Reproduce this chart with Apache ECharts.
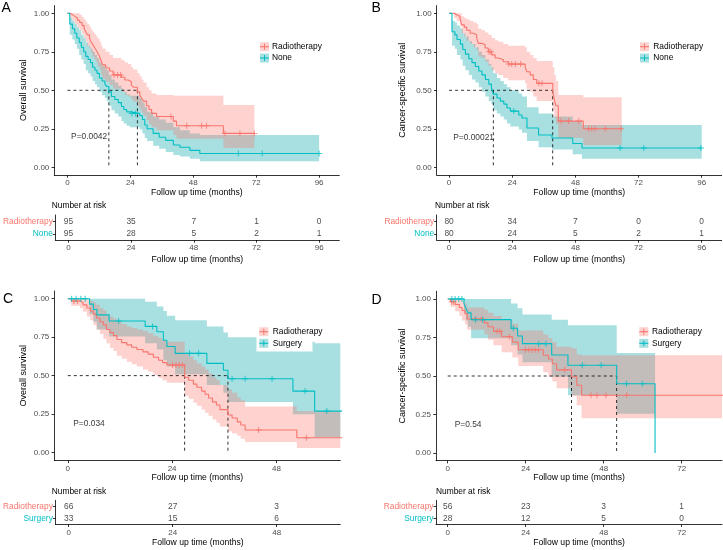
<!DOCTYPE html>
<html><head><meta charset="utf-8">
<script src="https://cdn.jsdelivr.net/npm/echarts@6/dist/echarts.min.js"></script>
<style>html,body{margin:0;padding:0;background:#fff}#c{width:723px;height:550px}</style>
</head><body><div id="c"></div>
<script>
const FONT = "'Liberation Sans', Arial, Helvetica, sans-serif";
const RED = '#F8766D', TEAL = '#00BFC4';
const RED_BAND = 'rgba(248,118,109,0.33)', TEAL_BAND = 'rgba(0,160,168,0.34)';

// ---- data: rows are [time, survival, lower CI, upper CI] ----
const kmA_radio = [[0,1,1,1],[1.0,0.99,0.97,1],[2.0,0.98,0.95,1],[2.9,0.97,0.93,1],[3.8,0.955,0.91,1],[4.7,0.94,0.89,0.99],[5.6,0.92,0.865,0.975],[6.4,0.90,0.84,0.96],[7.0,0.88,0.815,0.945],[7.6,0.86,0.79,0.93],[8.4,0.84,0.77,0.915],[9.0,0.815,0.74,0.895],[9.6,0.80,0.72,0.88],[10.3,0.78,0.70,0.865],[11.0,0.76,0.68,0.85],[11.6,0.74,0.655,0.835],[12.3,0.72,0.635,0.815],[12.9,0.69,0.60,0.79],[13.4,0.665,0.575,0.77],[14.6,0.645,0.555,0.75],[16.1,0.625,0.535,0.73],[17.4,0.60,0.51,0.71],[20.6,0.585,0.49,0.695],[21.9,0.567,0.47,0.68],[23.2,0.556,0.46,0.67],[24.4,0.535,0.44,0.65],[25.1,0.52,0.425,0.635],[26.7,0.49,0.395,0.61],[27.6,0.47,0.375,0.59],[28.3,0.45,0.355,0.57],[29.0,0.43,0.335,0.55],[30.2,0.40,0.305,0.52],[31.1,0.375,0.28,0.50],[32.1,0.35,0.26,0.48],[34.0,0.33,0.24,0.47],[40.4,0.30,0.21,0.465],[41.6,0.27,0.185,0.465],[59.5,0.22,0.125,0.405],[71.3,0.22,0.125,0.405]];
const kmA_none = [[0,1,1,1],[0.9,0.93,0.86,0.97],[1.9,0.90,0.83,0.95],[2.8,0.87,0.80,0.93],[3.6,0.84,0.77,0.91],[4.5,0.81,0.73,0.89],[5.3,0.78,0.70,0.86],[6.2,0.75,0.67,0.84],[7.0,0.72,0.63,0.81],[7.9,0.70,0.61,0.79],[8.8,0.68,0.59,0.77],[9.6,0.65,0.56,0.75],[10.5,0.63,0.54,0.73],[11.3,0.61,0.52,0.71],[12.2,0.58,0.49,0.68],[13.2,0.56,0.47,0.66],[14.3,0.54,0.45,0.64],[15.0,0.525,0.43,0.63],[15.8,0.49,0.40,0.60],[16.8,0.46,0.37,0.57],[18.1,0.44,0.35,0.55],[19.4,0.42,0.33,0.53],[20.6,0.395,0.30,0.51],[21.5,0.375,0.285,0.49],[22.6,0.36,0.27,0.475],[23.8,0.35,0.26,0.465],[27.6,0.335,0.245,0.45],[28.6,0.31,0.22,0.42],[29.5,0.275,0.19,0.39],[30.4,0.25,0.17,0.36],[32.7,0.22,0.14,0.33],[35.0,0.195,0.12,0.31],[37.5,0.175,0.10,0.29],[40.4,0.145,0.08,0.26],[42.9,0.13,0.07,0.24],[46.7,0.11,0.055,0.22],[50.5,0.09,0.04,0.21],[96,0.09,0.04,0.21]];
const censA_radio = [17.8,19.1,20.3,39.5,45.5,51.2,53.1,60.1,65.8,71.3];
const censA_none = [24.6,26.0,65.2,74.3,96];

const kmB_radio = [[0,1,1,1],[1.9,0.99,0.97,1],[2.9,0.98,0.95,1],[4.2,0.96,0.92,1],[4.8,0.925,0.87,0.98],[5.8,0.91,0.85,0.97],[6.7,0.89,0.82,0.96],[8.0,0.87,0.80,0.95],[9.3,0.86,0.78,0.94],[10.5,0.84,0.76,0.93],[11.1,0.805,0.72,0.90],[12.4,0.795,0.71,0.89],[13.7,0.775,0.685,0.875],[14.9,0.75,0.66,0.86],[16.2,0.73,0.63,0.84],[17.5,0.71,0.61,0.825],[18.7,0.70,0.60,0.815],[20.6,0.685,0.58,0.80],[22.5,0.67,0.565,0.79],[28.9,0.655,0.545,0.78],[29.5,0.62,0.51,0.75],[30.8,0.60,0.49,0.73],[32.0,0.57,0.46,0.71],[33.3,0.545,0.43,0.69],[39.4,0.49,0.37,0.65],[40.0,0.44,0.32,0.60],[40.6,0.40,0.28,0.56],[41.5,0.30,0.19,0.47],[51.0,0.25,0.145,0.455],[65.6,0.25,0.145,0.455]];
const kmB_none = [[0,1,1,1],[1.1,0.88,0.79,0.95],[2.2,0.86,0.77,0.94],[3.0,0.83,0.73,0.92],[4.3,0.80,0.70,0.90],[5.2,0.765,0.66,0.87],[6.2,0.735,0.63,0.85],[7.5,0.705,0.60,0.82],[8.7,0.68,0.57,0.80],[10.0,0.655,0.55,0.78],[11.3,0.625,0.52,0.75],[12.5,0.60,0.49,0.73],[13.8,0.57,0.46,0.70],[15.1,0.54,0.43,0.67],[16.1,0.515,0.41,0.65],[16.8,0.475,0.37,0.61],[18.2,0.45,0.35,0.58],[19.5,0.43,0.33,0.56],[20.8,0.41,0.31,0.54],[22.0,0.385,0.285,0.52],[23.3,0.365,0.265,0.50],[26.5,0.34,0.245,0.48],[27.7,0.32,0.225,0.46],[29.6,0.255,0.17,0.39],[34.0,0.21,0.13,0.35],[39.1,0.19,0.115,0.33],[47.0,0.155,0.085,0.30],[50.5,0.125,0.055,0.275],[96,0.125,0.055,0.275]];
const censB_radio = [15.2,15.9,22.7,23.8,25.2,27.2,34.1,35.3,42.5,45.4,49.3,53.0,54.2,55.5,59.4,65.4];
const censB_none = [24.6,65.0,74.0,95.7];

const kmC_radio = [[0,1,1,1],[0.8,0.985,0.955,1],[2.8,0.975,0.94,1],[3.5,0.96,0.915,1],[4.4,0.94,0.885,0.995],[5.2,0.92,0.86,0.985],[5.9,0.90,0.83,0.975],[6.6,0.875,0.80,0.96],[7.4,0.85,0.77,0.94],[8.2,0.83,0.74,0.925],[8.9,0.80,0.71,0.90],[9.7,0.78,0.68,0.885],[10.5,0.76,0.66,0.87],[11.3,0.735,0.63,0.85],[12.4,0.715,0.61,0.835],[13.6,0.70,0.59,0.82],[14.7,0.685,0.575,0.81],[15.9,0.67,0.56,0.80],[17.3,0.655,0.54,0.79],[18.5,0.64,0.525,0.775],[19.7,0.62,0.505,0.76],[20.9,0.60,0.485,0.745],[21.8,0.585,0.47,0.73],[22.8,0.57,0.455,0.72],[26.9,0.49,0.37,0.645],[27.8,0.47,0.35,0.625],[28.9,0.445,0.325,0.60],[29.7,0.425,0.305,0.58],[30.8,0.40,0.28,0.56],[31.6,0.38,0.26,0.54],[32.4,0.355,0.24,0.515],[33.3,0.33,0.215,0.49],[34.2,0.31,0.195,0.47],[35.0,0.28,0.17,0.44],[36.85,0.245,0.14,0.41],[37.8,0.225,0.125,0.39],[39.0,0.20,0.11,0.36],[39.8,0.18,0.09,0.34],[40.8,0.147,0.07,0.30],[52.7,0.097,0.03,0.27],[65,0.097,0.03,0.27]];
const kmC_surg = [[0,1,1,1],[5.0,0.965,0.90,1],[5.9,0.93,0.85,1],[6.7,0.895,0.80,1],[9.5,0.855,0.755,1],[17.8,0.82,0.71,0.98],[20.5,0.785,0.67,0.95],[22.0,0.73,0.60,0.92],[22.8,0.69,0.56,0.89],[24.7,0.645,0.51,0.86],[32.0,0.58,0.44,0.82],[35.8,0.535,0.39,0.78],[36.85,0.48,0.33,0.75],[51.8,0.40,0.25,0.72],[56.8,0.27,0.10,0.71],[65,0.27,0.10,0.71]];
const censC_radio = [1.4,2.2,24.1,24.9,25.6,26.4,43.9,54.9];
const censC_surg = [0.9,1.9,3.0,4.0,11.7,19.5,28.0,30.1,37.8,40.8,47.0,54.6,59.6];

const kmD_radio = [[0,1,1,1],[0.9,0.982,0.95,1],[2.3,0.964,0.92,1],[3.6,0.945,0.89,1],[4.4,0.925,0.86,0.985],[5.3,0.905,0.835,0.97],[6.0,0.87,0.80,0.945],[11.3,0.845,0.77,0.93],[12.4,0.82,0.735,0.91],[14.1,0.79,0.70,0.89],[16.6,0.755,0.655,0.865],[19.9,0.72,0.62,0.84],[21.7,0.67,0.565,0.795],[29.4,0.635,0.525,0.77],[31.0,0.61,0.495,0.745],[32.2,0.58,0.465,0.72],[33.5,0.54,0.42,0.69],[38.1,0.495,0.37,0.68],[39.7,0.44,0.31,0.64],[41.2,0.375,0.225,0.635],[86,0.375,0.225,0.635]];
const kmD_surg = [[0,1,1,1],[5.0,0.97,0.91,1],[5.6,0.94,0.86,1],[6.2,0.91,0.82,1],[7.2,0.866,0.745,1],[19.5,0.81,0.70,0.97],[21.5,0.76,0.64,0.94],[23.0,0.71,0.59,0.90],[32.0,0.636,0.495,0.865],[37.0,0.57,0.375,0.83],[52.0,0.45,0.255,0.65],[63.8,0,0,0]];
const censD_radio = [1.2,1.8,8.6,10.4,15.2,16.1,19.0,23.9,24.9,25.9,26.9,27.9,36.0,44.1,45.9,48.7,55.1];
const censD_surg = [1.3,2.3,3.4,4.4,8.5,10.8,20.2,28.0,30.2,41.4,47.2,55.0,59.9];

// medians [group1, group2]
const medA = [26.7, 15.8], medB = [39.4, 16.8], medC = [26.9, 36.85], medD = [38.1, 52.0];
const pA = 'P=0.0042', pB = 'P=0.00021', pC = 'P=0.034', pD = 'P=0.54';

// risk tables
const ticksAB = [0, 24, 48, 72, 96], ticksC = [0, 24, 48], ticksD = [0, 24, 48, 72];
const riskA_radio = [95, 35, 7, 1, 0], riskA_none = [95, 28, 5, 2, 1];
const riskB_radio = [80, 34, 7, 0, 0], riskB_none = [80, 24, 5, 2, 1];
const riskC_radio = [66, 27, 3], riskC_surg = [33, 15, 6];
const riskD_radio = [56, 23, 3, 1], riskD_surg = [28, 12, 5, 0];
const yTicks = [0, 0.25, 0.5, 0.75, 1];

// ---- helpers ----
const PLUS = 'path://M-0.5,-3L0.5,-3L0.5,-0.5L3,-0.5L3,0.5L0.5,0.5L0.5,3L-0.5,3L-0.5,0.5L-3,0.5L-3,-0.5L-0.5,-0.5Z';
function stepAt(rows, t) { let s = rows[0][1]; for (const r of rows) { if (r[0] <= t) s = r[1]; else break; } return s; }
function bandSeries(rows, gi, color) {
  return {type:'custom', xAxisIndex:gi, yAxisIndex:gi, silent:true, z:1,
    data: rows.map(r => [r[0], r[2], r[3]]),
    encode:{x:0, y:[1, 2]},
    renderItem: function (params, api) {
      if (params.dataIndex !== 0) return null;
      const cs = params.coordSys;
      const up = [], lo = [];
      for (let i = 0; i < rows.length; i++) {
        const t = rows[i][0];
        up.push([t, rows[i][3]]); lo.push([t, rows[i][2]]);
        if (i < rows.length - 1) { up.push([rows[i + 1][0], rows[i][3]]); lo.push([rows[i + 1][0], rows[i][2]]); }
      }
      const pts = up.concat(lo.reverse()).map(p => {
        const c = api.coord(p);
        return [Math.max(cs.x, Math.min(cs.x + cs.width, c[0])), Math.max(cs.y, Math.min(cs.y + cs.height, c[1]))];
      });
      return {type:'polygon', shape:{points:pts}, style:{fill:color}};
    }};
}
function curveSeries(rows, cens, gi, color) {
  return [
    {type:'line', xAxisIndex:gi, yAxisIndex:gi, step:'end', symbol:'none', silent:true, z:3,
     lineStyle:{color:color, width:1.1}, data: rows.map(r => [r[0], r[1]])},
    {type:'scatter', xAxisIndex:gi, yAxisIndex:gi, symbol:PLUS, symbolSize:6, silent:true, z:4,
     itemStyle:{color:color}, data: cens.map(t => [t, stepAt(rows, t)])}
  ];
}
function dashSeg(gi, pts) {
  return {type:'line', xAxisIndex:gi, yAxisIndex:gi, symbol:'none', silent:true, z:2,
    lineStyle:{color:'#000', width:0.8, type:[3,3]}, data: pts};
}
function medianSeries(gi, med) {
  const m = Math.max(med[0], med[1]);
  return [dashSeg(gi, [[0, 0.5], [m, 0.5]]), dashSeg(gi, [[med[0], 0.5], [med[0], 0]]), dashSeg(gi, [[med[1], 0.5], [med[1], 0]])];
}
function pSeries(gi, x, y, txt) {
  return {type:'scatter', xAxisIndex:gi, yAxisIndex:gi, symbolSize:1, silent:true, z:5,
    itemStyle:{color:'rgba(0,0,0,0)'}, data:[[x, y]],
    label:{show:true, position:'right', distance:0, formatter: txt, fontSize:8.4, color:'#000', fontFamily:FONT}};
}
function riskSeries(gi, ticks, vals, row) {
  return {type:'scatter', xAxisIndex:gi, yAxisIndex:gi, symbolSize:1, silent:true,
    itemStyle:{color:'rgba(0,0,0,0)'}, data: ticks.map(t => [t, row]),
    label:{show:true, position:'inside', formatter: p => String(vals[p.dataIndex]), fontSize:8.4, color:'#1a1a1a', fontFamily:FONT}};
}
const axLine = {color:'#000', width:0.8};
function xAx(gi, min, max, ticks, gap) {
  return {type:'value', gridIndex:gi, min:min, max:max, name:'Follow up time (months)', nameLocation:'middle', nameGap:gap,
    nameTextStyle:{fontSize:8.6, color:'#000', fontFamily:FONT},
    axisLine:{show:true, onZero:false, lineStyle:axLine},
    axisTick:{show:true, length:2.7, customValues:ticks, lineStyle:axLine},
    axisLabel:{customValues:ticks, fontSize:8, color:'#4D4D4D', margin:4, fontFamily:FONT},
    splitLine:{show:false}};
}
function yAx(gi, name, gap) {
  return {type:'value', gridIndex:gi, min:-0.05, max:1.05, name:name, nameLocation:'middle', nameGap:gap,
    nameTextStyle:{fontSize:9, color:'#000', fontFamily:FONT},
    axisLine:{show:true, onZero:false, lineStyle:axLine},
    axisTick:{show:true, length:2.7, customValues:yTicks, lineStyle:axLine},
    axisLabel:{customValues:yTicks, formatter: v => v.toFixed(2), fontSize:8, color:'#4D4D4D', margin:5, fontFamily:FONT},
    splitLine:{show:false}};
}
function rAx(gi, cats) {
  return {type:'category', gridIndex:gi, data:cats, inverse:true,
    axisLine:{show:true, onZero:false, lineStyle:axLine},
    axisTick:{show:true, alignWithLabel:true, length:2.5, lineStyle:axLine},
    axisLabel:{fontSize:8.4, margin:2.5, fontFamily:FONT, color: v => (v === cats[0] ? RED : TEAL)},
    splitLine:{show:false}};
}
function legendEls(kx, y1, y2, tx, labels, bg) {
  const els = [];
  if (bg) els.push({type:'rect', z:100, shape:{x:bg[0], y:bg[1], width:bg[2], height:bg[3]}, style:{fill:'#fff'}});
  [[y1, RED, RED_BAND, labels[0]], [y2, TEAL, TEAL_BAND, labels[1]]].forEach(function (it) {
    const y = it[0];
    els.push({type:'rect', z:101, shape:{x:kx, y:y - 4.5, width:9, height:9}, style:{fill:it[2]}});
    els.push({type:'line', z:102, shape:{x1:kx, y1:y, x2:kx + 9, y2:y}, style:{stroke:it[1], lineWidth:1.1}});
    els.push({type:'line', z:102, shape:{x1:kx + 4.5, y1:y - 3, x2:kx + 4.5, y2:y + 3}, style:{stroke:it[1], lineWidth:1}});
    els.push({type:'text', z:102, x:tx, y:y, style:{text:it[3], fontSize:8.4, fontFamily:FONT, fill:'#000', verticalAlign:'middle'}});
  });
  return els;
}
function txt(x, y, s, size) {
  return {type:'text', z:102, x:x, y:y, style:{text:s, fontSize:size, fontFamily:FONT, fill:'#000', verticalAlign:'middle'}};
}

// ---- layout ----
const grids = [
  {left:54.3, top:5.6, width:285, height:169.4},
  {left:436.7, top:5.6, width:285, height:169.4},
  {left:54.3, top:291, width:286, height:169.4},
  {left:436, top:291.3, width:286, height:169.4},
  {left:54.3, top:215, width:285, height:25},
  {left:436.7, top:215, width:285, height:25},
  {left:54.3, top:500.3, width:286, height:24},
  {left:436, top:500.3, width:286, height:24}
];
const xRanges = [[-5.0, 103.7], [-4.7, 103.6], [-3.1, 62.7], [-3.6, 84.4]];

const xAxes = [
  xAx(0, xRanges[0][0], xRanges[0][1], ticksAB, 13),
  xAx(1, xRanges[1][0], xRanges[1][1], ticksAB, 13),
  xAx(2, xRanges[2][0], xRanges[2][1], ticksC, 12.5),
  xAx(3, xRanges[3][0], xRanges[3][1], ticksD, 12.5),
  xAx(4, xRanges[0][0], xRanges[0][1], ticksAB, 15),
  xAx(5, xRanges[1][0], xRanges[1][1], ticksAB, 15),
  xAx(6, xRanges[2][0], xRanges[2][1], ticksC, 14),
  xAx(7, xRanges[3][0], xRanges[3][1], ticksD, 14)
];
const yAxes = [
  yAx(0, 'Overall survival', 26.5),
  yAx(1, 'Cancer-specific survival', 29.5),
  yAx(2, 'Overall survival', 26.5),
  yAx(3, 'Cancer-specific survival', 29),
  rAx(4, ['Radiotherapy', 'None']),
  rAx(5, ['Radiotherapy', 'None']),
  rAx(6, ['Radiotherapy', 'Surgery']),
  rAx(7, ['Radiotherapy', 'Surgery'])
];

let series = [];
series = series.concat(
  [bandSeries(kmA_none, 0, TEAL_BAND), bandSeries(kmA_radio, 0, RED_BAND)],
  medianSeries(0, medA), curveSeries(kmA_radio, censA_radio, 0, RED), curveSeries(kmA_none, censA_none, 0, TEAL),
  [pSeries(0, 1.2, 0.2, pA)],
  [bandSeries(kmB_none, 1, TEAL_BAND), bandSeries(kmB_radio, 1, RED_BAND)],
  medianSeries(1, medB), curveSeries(kmB_radio, censB_radio, 1, RED), curveSeries(kmB_none, censB_none, 1, TEAL),
  [pSeries(1, 1.4, 0.195, pB)],
  [bandSeries(kmC_surg, 2, TEAL_BAND), bandSeries(kmC_radio, 2, RED_BAND)],
  medianSeries(2, medC), curveSeries(kmC_radio, censC_radio, 2, RED), curveSeries(kmC_surg, censC_surg, 2, TEAL),
  [pSeries(2, 1.15, 0.186, pC)],
  [bandSeries(kmD_surg, 3, TEAL_BAND), bandSeries(kmD_radio, 3, RED_BAND)],
  medianSeries(3, medD), curveSeries(kmD_radio, censD_radio, 3, RED), curveSeries(kmD_surg, censD_surg, 3, TEAL),
  [pSeries(3, 2.0, 0.186, pD)],
  [riskSeries(4, ticksAB, riskA_radio, 0), riskSeries(4, ticksAB, riskA_none, 1),
   riskSeries(5, ticksAB, riskB_radio, 0), riskSeries(5, ticksAB, riskB_none, 1),
   riskSeries(6, ticksC, riskC_radio, 0), riskSeries(6, ticksC, riskC_surg, 1),
   riskSeries(7, ticksD, riskD_radio, 0), riskSeries(7, ticksD, riskD_surg, 1)]
);

const graphicEls = [].concat(
  [txt(1.5, 8.5, 'A', 14), txt(371.5, 8.5, 'B', 14), txt(3, 299.5, 'C', 14), txt(371.5, 300, 'D', 14)],
  [txt(51.7, 205.7, 'Number at risk', 8.4), txt(435, 205.7, 'Number at risk', 8.4),
   txt(51.7, 491.7, 'Number at risk', 8.4), txt(436, 491.7, 'Number at risk', 8.4)],
  legendEls(260, 46.7, 58, 272, ['Radiotherapy', 'None'], null),
  legendEls(640, 46.7, 58, 653.3, ['Radiotherapy', 'None'], null),
  legendEls(259.3, 331.7, 343.3, 272.7, ['Radiotherapy', 'Surgery'], [256.5, 325, 56, 26.5]),
  legendEls(639.3, 331.7, 343.3, 652, ['Radiotherapy', 'Surgery'], [636.5, 325, 68, 26])
);

const chart = echarts.init(document.getElementById('c'), null, {renderer:'canvas'});
chart.setOption({
  animation:false,
  backgroundColor:'#fff',
  textStyle:{fontFamily:FONT},
  grid: grids,
  xAxis: xAxes,
  yAxis: yAxes,
  series: series,
  graphic: {z:100, elements: graphicEls}
});
</script></body></html>
